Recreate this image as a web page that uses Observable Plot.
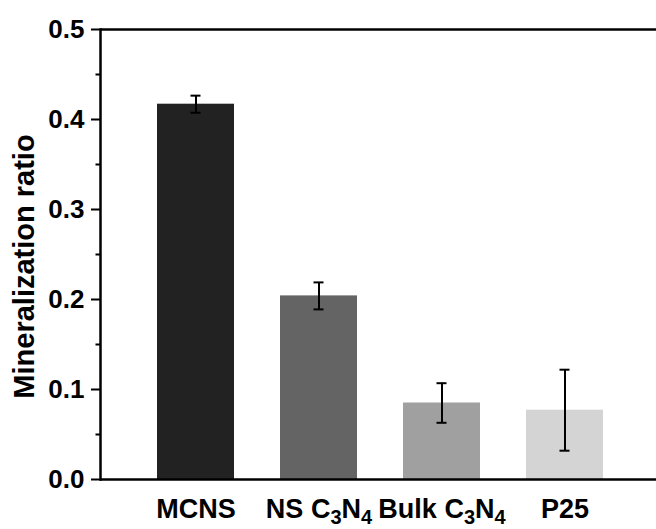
<!DOCTYPE html>
<html>
<head>
<meta charset="utf-8">
<script src="https://cdn.jsdelivr.net/npm/d3@7"></script>
<script src="https://cdn.jsdelivr.net/npm/@observablehq/plot@0.6"></script>
<style>
  html, body { margin: 0; padding: 0; background: #fff; }
  #chart svg { display: block; }
</style>
</head>
<body>
<div id="chart"></div>
<script>
const categories = ["MCNS", "NS C₃N₄", "Bulk C₃N₄", "P25"];
const values = [0.417, 0.204, 0.085, 0.077];
const errors = [0.0095, 0.015, 0.022, 0.045];
const colors = ["#222222", "#646464", "#a0a0a0", "#d4d4d4"];
const yTicks = [0, 0.1, 0.2, 0.3, 0.4, 0.5];
const yMinorTicks = [0.05, 0.15, 0.25, 0.35, 0.45];
const yTitle = "Mineralization ratio";

const data = categories.map((c, i) => ({cat: c, value: values[i], err: errors[i]}));

const font = "'Liberation Sans', Arial, Helvetica, sans-serif";

const chart = Plot.plot({
  width: 656,
  height: 529,
  marginLeft: 100,
  marginRight: 0,
  marginTop: 29,
  marginBottom: 50,
  style: {fontFamily: font, background: "white", color: "black"},
  x: {domain: categories, paddingInner: 0.37, paddingOuter: 0.4325, align: 0.523, axis: null},
  y: {domain: [0, 0.5], axis: null},
  color: {domain: categories, range: colors},
  marks: [
    Plot.barY(data, {x: "cat", y: "value", fill: "cat"}),
    Plot.ruleX(data, {x: "cat", y1: d => d.value - d.err, y2: d => d.value + d.err, stroke: "black", strokeWidth: 2}),
    Plot.tickY(data, {x: "cat", y: d => d.value - d.err, insetLeft: 33.5, insetRight: 33.5, stroke: "black", strokeWidth: 2}),
    Plot.tickY(data, {x: "cat", y: d => d.value + d.err, insetLeft: 33.5, insetRight: 33.5, stroke: "black", strokeWidth: 2}),
    Plot.ruleY([0.5], {stroke: "black", strokeWidth: 2.5}),
    Plot.ruleY([0], {stroke: "black", strokeWidth: 2.5}),
    Plot.frame({anchor: "left", stroke: "black", strokeWidth: 2.5}),
    Plot.axisY({ticks: yTicks, tickSize: 9, tickPadding: 7, tickFormat: d3.format(".1f"), fontSize: 26, fontWeight: "bold", strokeWidth: 2, label: null}),
    Plot.axisY({ticks: yMinorTicks, tickSize: 4.5, tickFormat: () => "", strokeWidth: 2, label: null}),
    Plot.axisX({tickSize: 0, tickPadding: 19, fontSize: 27, fontWeight: "bold", label: null}),
    Plot.text([yTitle], {frameAnchor: "left", rotate: -90, dx: -76, dy: 12, fontSize: 29, fontWeight: "bold", fill: "black", textAnchor: "middle", lineAnchor: "middle"})
  ]
});

document.getElementById("chart").appendChild(chart);

// render subscripts as smaller, lowered digits
const subMap = {"₀":"0","₁":"1","₂":"2","₃":"3","₄":"4","₅":"5","₆":"6","₇":"7","₈":"8","₉":"9"};
d3.select(chart).selectAll('g[aria-label="x-axis tick label"] text').each(function() {
  const t = d3.select(this);
  const s = this.textContent;
  if (!/[₀-₉]/.test(s)) return;
  t.text(null);
  let shifted = false;
  for (const ch of s) {
    if (subMap[ch]) {
      const ts = t.append("tspan").attr("font-size", 20).text(subMap[ch]);
      if (!shifted) { ts.attr("dy", 6); shifted = true; }
    } else {
      const ts = t.append("tspan").text(ch);
      if (shifted) { ts.attr("dy", -6); shifted = false; }
    }
  }
});
</script>
</body>
</html>
